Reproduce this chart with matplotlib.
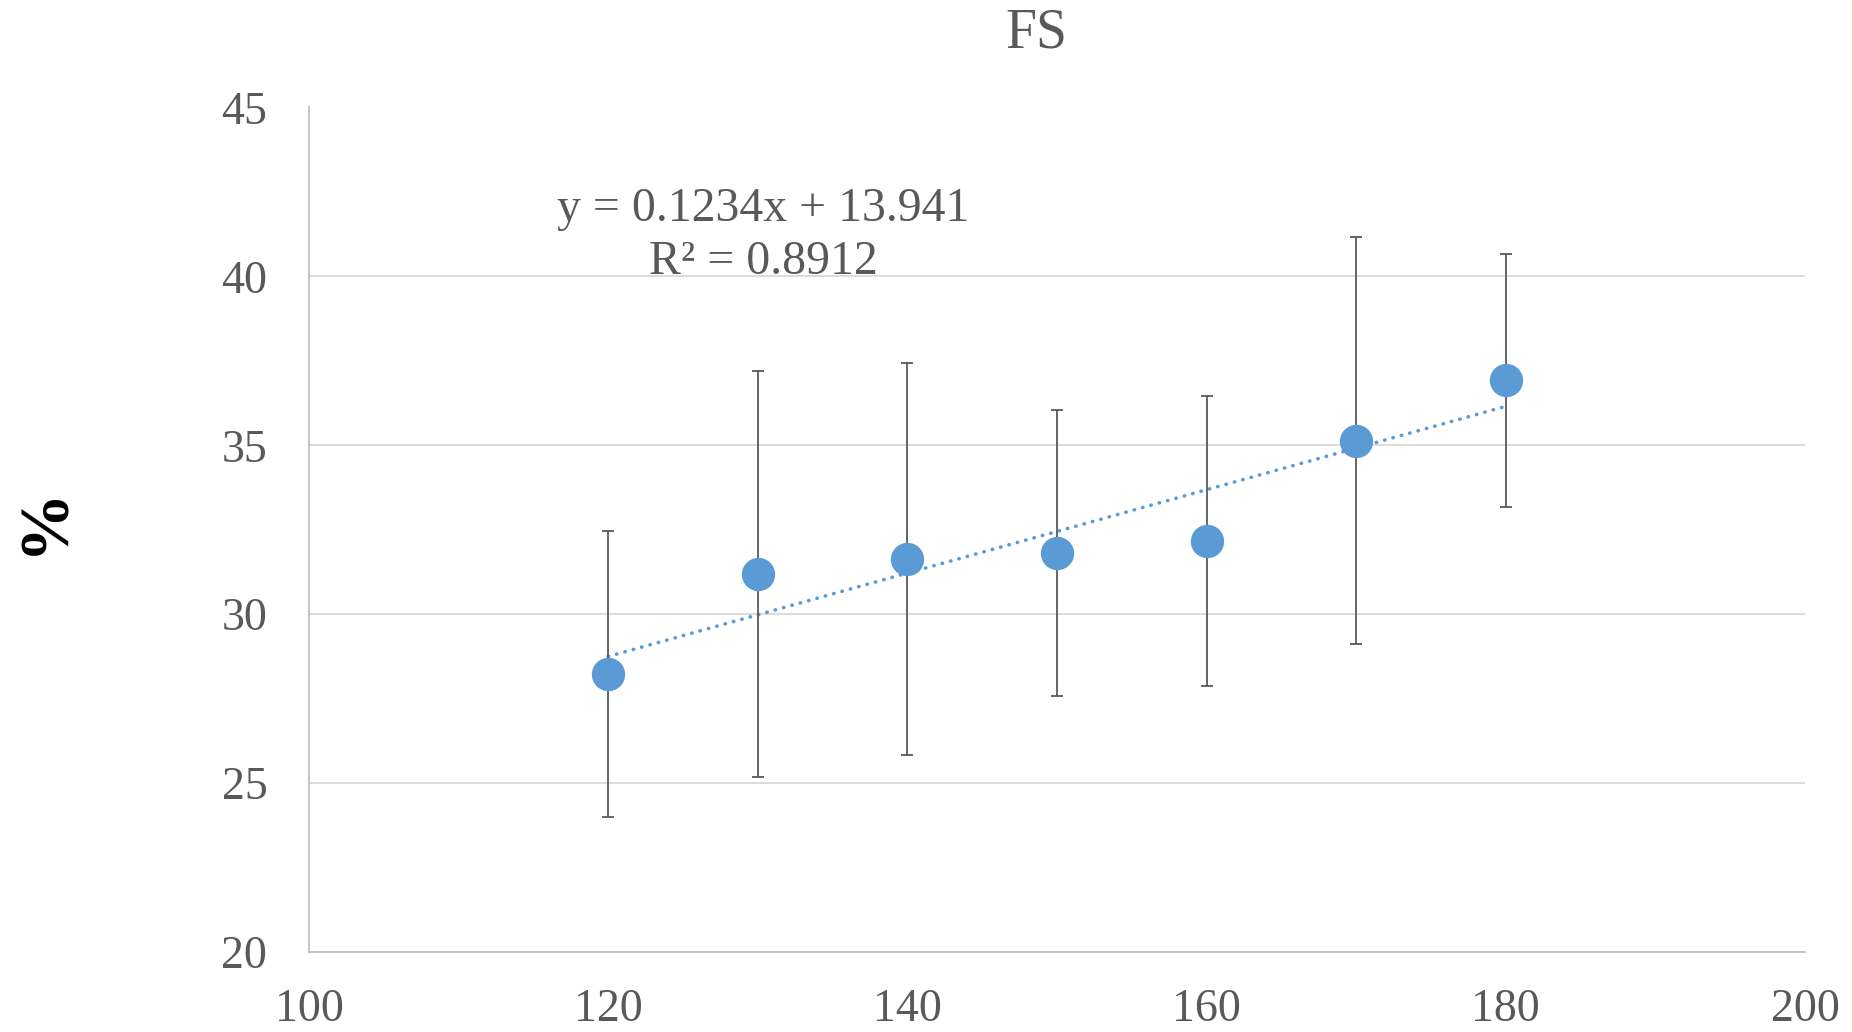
import numpy as np
import matplotlib.pyplot as plt

plt.rcParams['font.family'] = ['Liberation Serif', 'DejaVu Serif']

# data
x_vals = [120, 130, 140, 150, 160, 170, 180]
y_vals = [28.22, 31.19, 31.64, 31.82, 32.17, 35.14, 36.92]
y_err = [4.23, 6.02, 5.80, 4.23, 4.30, 6.02, 3.74]

# linear trendline as printed on the chart
slope = 0.1234
intercept = 13.941
r_squared = 0.8912

x_ticks = [100, 120, 140, 160, 180, 200]
y_ticks = [20, 25, 30, 35, 40, 45]

blue = '#5B9BD5'
grey_text = '#595959'

W, H = 1852, 1032
fig = plt.figure(figsize=(W / 100, H / 100), dpi=100)
ax = fig.add_axes([309 / W, 80 / H, (1805 - 309) / W, (952 - 107.5) / H])

# trendline (dotted)
xt = np.array([x_vals[0], x_vals[-1]])
ax.plot(xt, slope * xt + intercept, color=blue, lw=2.6,
        linestyle=(0, (0.1, 2.3)), dash_capstyle='round', zorder=2)

# error bars + markers
ax.errorbar(x_vals, y_vals, yerr=y_err, fmt='none', ecolor=grey_text,
            elinewidth=1.3, capsize=4, capthick=1.3, zorder=3)
ax.plot(x_vals, y_vals, 'o', color=blue, markersize=24,
        markeredgewidth=0, zorder=4)

ax.set_xlim(100, 200)
ax.set_ylim(20, 45)
ax.set_xticks(x_ticks)
ax.set_yticks(y_ticks)
ax.tick_params(axis='both', length=0, labelsize=33, labelcolor=grey_text)
ax.tick_params(axis='x', pad=26)
ax.tick_params(axis='y', pad=30)
ax.grid(axis='y', color='#D9D9D9', lw=1.3)
ax.set_axisbelow(True)
for s in ['top', 'right']:
    ax.spines[s].set_visible(False)
for s in ['left', 'bottom']:
    ax.spines[s].set_color('#BFBFBF')
    ax.spines[s].set_linewidth(1.3)

# title and axis label
fig.text(1036 / W, 1 - 33 / H, 'FS', fontsize=40, color=grey_text,
         ha='center', va='center')
fig.text(45 / W, 1 - 520 / H, '%', fontsize=50, fontweight='bold',
         color='black', rotation=90, ha='center', va='center')

# trendline equation
fig.text(763 / W, 1 - 221 / H, f'y = {slope}x + {intercept}', fontsize=34.4,
         color=grey_text, ha='center', va='baseline')
fig.text(763 / W, 1 - 274 / H, f'R² = {r_squared}', fontsize=34.4,
         color=grey_text, ha='center', va='baseline')

fig.savefig('out.png', dpi=100)
